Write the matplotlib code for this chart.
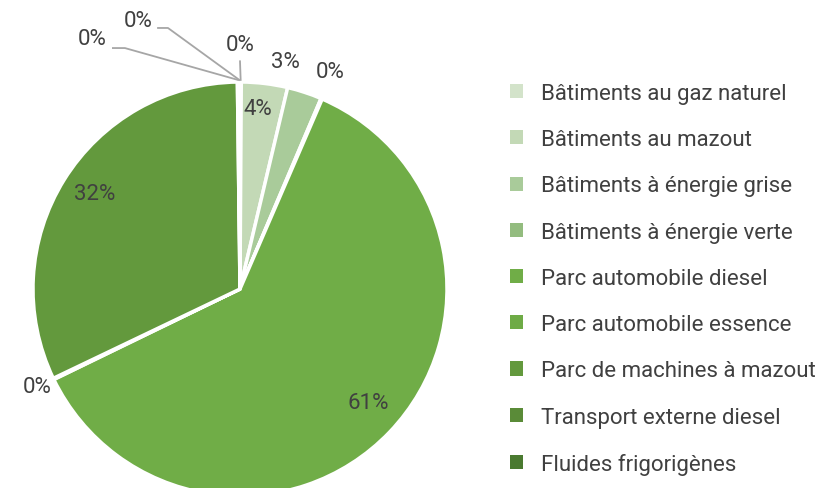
import numpy as np
import matplotlib
matplotlib.use("Agg")
import matplotlib.pyplot as plt

# Data
categories = [
    "Bâtiments au gaz naturel",
    "Bâtiments au mazout",
    "Bâtiments à énergie grise",
    "Bâtiments à énergie verte",
    "Parc automobile diesel",
    "Parc automobile essence",
    "Parc de machines à mazout",
    "Transport externe diesel",
    "Fluides frigorigènes",
]
shares = [0.1, 3.6, 2.7, 0.1, 61.3, 0.1, 31.9, 0.1, 0.1]
colors = ["#d3e3ca", "#c3d9b6", "#a9cb9a", "#93bc7f", "#70ad47",
          "#6eab46", "#63993d", "#5a8b38", "#4a7a30"]

TEXT_COLOR = "#404040"
plt.rcParams["font.family"] = ["Roboto", "DejaVu Sans"]

fig = plt.figure(figsize=(8.2, 4.89), dpi=100)
# pie centre ~ (240, 290) px, radius ~207 px
R = 207
ax = fig.add_axes([(240 - R) / 820, (489 - 290 - R) / 489, 2 * R / 820, 2 * R / 489])
wedges, _ = ax.pie(shares, colors=colors, startangle=90, counterclock=False,
                   wedgeprops=dict(edgecolor="white", linewidth=2.5))
ax.set_xlim(-1, 1)
ax.set_ylim(-1, 1)
ax.set_aspect("equal")
ax.axis("off")

labels = [f"{v:.0f}%" for v in shares]
# label placement (x, y) in pie units, plus optional leader elbow
label_pos = [(0.0, 1.18), (0.087, 0.87), (0.22, 1.10), (0.435, 1.053),
             (0.618, -0.546), (-0.98, -0.473), (-0.70, 0.459),
             (-0.715, 1.208), (-0.493, 1.295)]
leaders = {0: [(0.0, 1.10)],
           7: [(-0.556, 1.164), (-0.614, 1.164)],
           8: [(-0.348, 1.261), (-0.396, 1.261)]}

for i, (w, lab) in enumerate(zip(wedges, labels)):
    x, y = label_pos[i]
    ax.text(x, y, lab, ha="center", va="center", fontsize=16,
            color=TEXT_COLOR, clip_on=False)
    if i in leaders:
        mid = np.deg2rad((w.theta1 + w.theta2) / 2)
        pts = [(np.cos(mid) * 1.01, np.sin(mid) * 1.01)] + leaders[i]
        xs, ys = zip(*pts)
        ax.plot(xs, ys, color="#a6a6a6", lw=1.3, clip_on=False)

leg = fig.legend(wedges, categories, loc="upper left",
                 bbox_to_anchor=(510 / 820, 1 - 84 / 489), frameon=False,
                 fontsize=16, labelcolor=TEXT_COLOR, handlelength=0.6,
                 handleheight=0.6, handletextpad=0.8, labelspacing=1.135,
                 borderpad=0, borderaxespad=0)
for h in leg.legend_handles:
    h.set_edgecolor("none")

fig.savefig("out.png", dpi=100)
